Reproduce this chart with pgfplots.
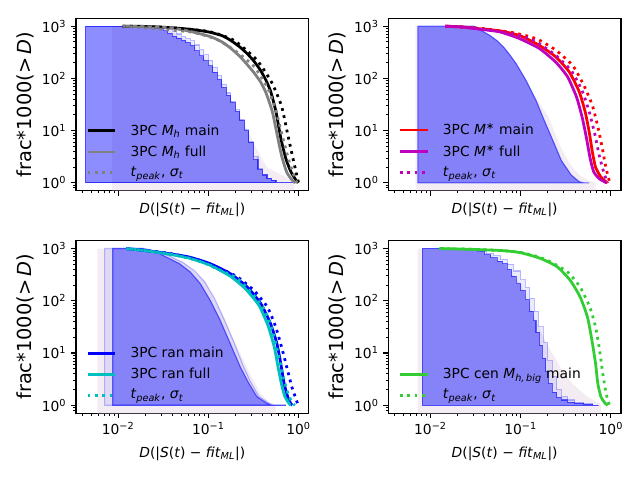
\documentclass[border=0pt]{standalone}
\usepackage{fontspec}
\setmainfont{DejaVu Sans}
\usepackage{pgfplots}
\pgfplotsset{compat=1.18}

\definecolor{mgray}{RGB}{128,128,128}
\definecolor{mred}{RGB}{255,0,0}
\definecolor{mblue}{RGB}{0,0,255}
\definecolor{mmag}{RGB}{191,0,191}
\definecolor{mcyan}{RGB}{0,191,191}
\definecolor{mlime}{RGB}{50,205,50}
\definecolor{thist}{RGB}{216,191,216}

\pgfplotsset{
 every axis/.append style={
  scale only axis, width=167.5bp, height=124.1bp, anchor=south west,
  axis line style={line width=0.8pt},
  tick align=outside, tick pos=left,
  major tick length=3.5pt, minor tick length=2pt,
  every tick/.style={black,line width=0.8pt},
  every minor tick/.style={black,line width=0.6pt},
  tick label style={font=\fontsize{10}{12}\selectfont},
  every axis y label/.style={at={(axis description cs:-0.219,0.5)},rotate=90,anchor=center,font=\fontsize{14}{16}\selectfont},
  legend style={at={(axis description cs:0.043,0.052)}, anchor=south west, draw=none, fill=none,
     font=\fontsize{10}{12}\selectfont, inner sep=0pt, row sep=2.2pt},
  legend cell align=left,
 },
 legend image code/.code={\draw[#1] (0pt,0pt) -- (20pt,0pt); \path (28pt,0pt);},
 lav/.style={fill=thist, fill opacity=0.3, draw=none},
 bluelight/.style={fill=mblue, fill opacity=0.08, draw=mblue, draw opacity=0.25, line width=0.8pt},
 bluemain/.style={fill=mblue, fill opacity=0.40, draw=mblue, draw opacity=0.55, line width=0.8pt},
 ln/.style={line width=2pt, smooth, tension=0.35},
 dt/.style={line width=2pt, dash pattern=on 2pt off 3.3pt, smooth, tension=0.35},
}
\newcommand{\XL}{\textit{D}(|\textit{S}(\textit{t}) − \textit{fit}\textsubscript{\textit{ML}}|)}
\newcommand{\YL}{frac*1000(>\,\textit{D})}
\newcommand{\TP}{\textit{t}\textsubscript{\textit{peak}}, \textit{σ}\textsubscript{\textit{t}}}

\begin{document}
\begin{tikzpicture}
\useasboundingbox (0,0) rectangle (460.8bp,345.6bp);

%================ top left =================
\begin{axis}[at={(54.72bp,208.3bp)},
  xmode=log, ymode=log, xmin=0.003412, xmax=1.294, ymin=0.7079, ymax=1412.5,
  xtick={0.01,0.1,1}, ytick={1,10,100,1000},
  minor xtick={0.004,0.005,0.006,0.007,0.008,0.009,0.02,0.03,0.04,0.05,0.06,0.07,0.08,0.09,0.2,0.3,0.4,0.5,0.6,0.7,0.8,0.9},
  minor ytick={0.8,0.9,2,3,4,5,6,7,8,9,20,30,40,50,60,70,80,90,200,300,400,500,600,700,800,900},
  xticklabels={}, yticklabels={10\textsuperscript{0},10\textsuperscript{1},10\textsuperscript{2},10\textsuperscript{3}},
  ylabel={\YL}, xlabel={\XL},
  every axis x label/.style={at={(axis description cs:0.5,-0.112)},anchor=center,font=\fontsize{10}{12}\selectfont}]
\addplot[lav, forget plot] table[header=false,row sep=\\,x expr=10^(\thisrowno{0}),y expr=10^(\thisrowno{1})]{
-2.07 -0.3\\ -2.07 3.0\\ -1.60 3.0\\ -1.45 2.92\\ -1.30 2.80\\ -1.15 2.58\\ -1.00 2.30\\ -0.90 2.06\\ -0.80 1.76\\ -0.70 1.45\\ -0.60 1.12\\ -0.50 0.78\\ -0.42 0.50\\ -0.35 0.30\\ -0.25 0.20\\ -0.15 0.12\\ -0.08 0.04\\ -0.05 0.0\\ -0.05 -0.3\\
} -- cycle;
\addplot[bluelight, const plot, forget plot] table[header=false,row sep=\\,x expr=10^(\thisrowno{0}),y expr=10^(\thisrowno{1})]{
-2.36 0\\ -2.36 3.0\\ -1.60 3.0\\ -1.55 2.99\\ -1.50 2.97\\ -1.45 2.94\\ -1.40 2.90\\ -1.35 2.85\\ -1.30 2.80\\ -1.25 2.76\\ -1.20 2.72\\ -1.15 2.64\\ -1.10 2.55\\ -1.05 2.45\\ -1.00 2.35\\ -0.95 2.21\\ -0.90 2.06\\ -0.85 1.89\\ -0.80 1.72\\ -0.75 1.56\\ -0.70 1.40\\ -0.65 1.22\\ -0.60 1.02\\ -0.55 0.79\\ -0.50 0.50\\ -0.45 0.28\\ -0.40 0.16\\ -0.35 0.09\\ -0.30 0.05\\ -0.25 0.0\\ -0.03 0.0\\
} -- cycle;
\addplot[bluemain, const plot, forget plot] table[header=false,row sep=\\,x expr=10^(\thisrowno{0}),y expr=10^(\thisrowno{1})]{
-2.36 0\\ -2.36 3.0\\ -1.65 3.0\\ -1.60 2.98\\ -1.55 2.95\\ -1.50 2.91\\ -1.45 2.86\\ -1.40 2.81\\ -1.35 2.77\\ -1.30 2.73\\ -1.25 2.69\\ -1.20 2.63\\ -1.15 2.53\\ -1.10 2.43\\ -1.05 2.34\\ -1.00 2.24\\ -0.95 2.12\\ -0.90 1.98\\ -0.85 1.83\\ -0.80 1.68\\ -0.75 1.54\\ -0.70 1.37\\ -0.65 1.20\\ -0.60 1.00\\ -0.55 0.78\\ -0.50 0.45\\ -0.45 0.26\\ -0.40 0.15\\ -0.35 0.09\\ -0.30 0.05\\ -0.25 0.0\\ -0.03 0.0\\
} -- cycle;
\addplot[ln, black] table[header=false,row sep=\\,x expr=10^(\thisrowno{0}),y expr=10^(\thisrowno{1})]{
-1.95 3.0\\ -1.70 2.995\\ -1.45 2.975\\ -1.20 2.94\\ -1.00 2.89\\ -0.85 2.82\\ -0.754 2.73\\ -0.65 2.60\\ -0.567 2.47\\ -0.49 2.32\\ -0.42 2.15\\ -0.36 1.96\\ -0.307 1.74\\ -0.25 1.36\\ -0.196 0.85\\ -0.14 0.46\\ -0.084 0.21\\ -0.028 0.05\\ -0.005 0.0\\
};
\addlegendentry{3PC \textit{M}\textsubscript{\textit{h}} main}
\addplot[ln, mgray] table[header=false,row sep=\\,x expr=10^(\thisrowno{0}),y expr=10^(\thisrowno{1})]{
-1.95 3.0\\ -1.70 2.99\\ -1.43 2.97\\ -1.20 2.90\\ -0.978 2.80\\ -0.85 2.70\\ -0.754 2.58\\ -0.65 2.42\\ -0.567 2.26\\ -0.49 2.10\\ -0.42 1.93\\ -0.36 1.72\\ -0.29 1.36\\ -0.235 0.90\\ -0.185 0.50\\ -0.13 0.20\\ -0.07 0.05\\ -0.035 0.0\\
};
\addlegendentry{3PC \textit{M}\textsubscript{\textit{h}} full}
\addplot[dt, black, forget plot] table[header=false,row sep=\\,x expr=10^(\thisrowno{0}),y expr=10^(\thisrowno{1})]{
-1.95 3.0\\ -1.45 2.975\\ -1.00 2.90\\ -0.75 2.76\\ -0.64 2.63\\ -0.456 2.34\\ -0.30 1.93\\ -0.19 1.48\\ -0.125 0.97\\ -0.07 0.53\\ -0.02 0.15\\ 0.0 0.0\\
};
\addplot[dt, mgray] table[header=false,row sep=\\,x expr=10^(\thisrowno{0}),y expr=10^(\thisrowno{1})]{
-1.95 3.0\\ -1.20 2.89\\ -0.90 2.74\\ -0.68 2.50\\ -0.49 2.22\\ -0.344 1.82\\ -0.25 1.38\\ -0.176 0.87\\ -0.102 0.40\\ -0.039 0.08\\ -0.017 0.0\\
};
\addlegendentry{\TP}
\end{axis}

%================ top right =================
\begin{axis}[at={(279.6bp,208.3bp)},
  xmode=log, ymode=log, xmin=0.003412, xmax=1.294, ymin=0.7079, ymax=1412.5,
  xtick={0.01,0.1,1}, ytick={1,10,100,1000},
  minor xtick={0.004,0.005,0.006,0.007,0.008,0.009,0.02,0.03,0.04,0.05,0.06,0.07,0.08,0.09,0.2,0.3,0.4,0.5,0.6,0.7,0.8,0.9},
  minor ytick={0.8,0.9,2,3,4,5,6,7,8,9,20,30,40,50,60,70,80,90,200,300,400,500,600,700,800,900},
  xticklabels={}, yticklabels={10\textsuperscript{0},10\textsuperscript{1},10\textsuperscript{2},10\textsuperscript{3}},
  ylabel={\YL}, xlabel={\XL},
  every axis x label/.style={at={(axis description cs:0.5,-0.112)},anchor=center,font=\fontsize{10}{12}\selectfont}]
\addplot[lav, forget plot] table[header=false,row sep=\\,x expr=10^(\thisrowno{0}),y expr=10^(\thisrowno{1})]{
-2.165 -0.3\\ -2.165 3.0\\ -1.50 3.0\\ -1.34 2.83\\ -1.19 2.62\\ -1.05 2.30\\ -0.94 1.98\\ -0.83 1.62\\ -0.70 1.29\\ -0.62 0.95\\ -0.55 0.66\\ -0.45 0.35\\ -0.35 0.15\\ -0.25 0.05\\ -0.17 0.0\\ -0.17 -0.3\\
} -- cycle;
\addplot[bluemain, fill opacity=0.45, forget plot] table[header=false,row sep=\\,x expr=10^(\thisrowno{0}),y expr=10^(\thisrowno{1})]{
-2.14 0\\ -2.14 3.0\\ -1.52 3.0\\ -1.43 2.91\\ -1.34 2.82\\ -1.26 2.72\\ -1.19 2.60\\ -1.12 2.45\\ -1.05 2.28\\ -0.94 1.96\\ -0.83 1.58\\ -0.74 1.20\\ -0.645 0.82\\ -0.55 0.43\\ -0.44 0.15\\ -0.35 0.02\\ -0.30 0.0\\ -0.24 0.0\\
} -- cycle;
\addplot[ln, mred] table[header=false,row sep=\\,x expr=10^(\thisrowno{0}),y expr=10^(\thisrowno{1})]{
-1.835 3.0\\ -1.65 2.985\\ -1.45 2.95\\ -1.23 2.91\\ -1.01 2.82\\ -0.79 2.63\\ -0.61 2.41\\ -0.46 2.12\\ -0.35 1.74\\ -0.285 1.36\\ -0.24 0.97\\ -0.205 0.59\\ -0.17 0.30\\ -0.11 0.11\\ -0.06 0.03\\ -0.04 0.0\\
};
\addlegendentry{3PC \textit{M}\textsuperscript{∗} main}
\addplot[ln, mmag] table[header=false,row sep=\\,x expr=10^(\thisrowno{0}),y expr=10^(\thisrowno{1})]{
-1.835 3.0\\ -1.65 2.985\\ -1.45 2.94\\ -1.23 2.89\\ -1.01 2.76\\ -0.79 2.57\\ -0.61 2.31\\ -0.48 2.03\\ -0.38 1.64\\ -0.315 1.23\\ -0.27 0.85\\ -0.23 0.47\\ -0.19 0.21\\ -0.13 0.08\\ -0.08 0.03\\ -0.05 0.0\\
};
\addlegendentry{3PC \textit{M}\textsuperscript{∗} full}
\addplot[dt, mred, forget plot] table[header=false,row sep=\\,x expr=10^(\thisrowno{0}),y expr=10^(\thisrowno{1})]{
-1.835 3.0\\ -1.45 2.96\\ -1.10 2.88\\ -0.90 2.80\\ -0.79 2.73\\ -0.61 2.54\\ -0.425 2.25\\ -0.30 1.87\\ -0.205 1.48\\ -0.14 1.04\\ -0.095 0.66\\ -0.06 0.34\\ -0.03 0.11\\ -0.01 0.0\\
};
\addplot[dt, mmag] table[header=false,row sep=\\,x expr=10^(\thisrowno{0}),y expr=10^(\thisrowno{1})]{
-1.835 3.0\\ -1.45 2.95\\ -1.10 2.86\\ -0.90 2.76\\ -0.79 2.66\\ -0.61 2.44\\ -0.44 2.15\\ -0.32 1.77\\ -0.24 1.36\\ -0.175 0.91\\ -0.13 0.53\\ -0.085 0.24\\ -0.055 0.08\\ -0.03 0.0\\
};
\addlegendentry{\TP}
\end{axis}

%================ bottom left =================
\begin{axis}[at={(54.72bp,48.2bp)},
  xmode=log, ymode=log, xmin=0.003412, xmax=1.294, ymin=0.7079, ymax=1412.5,
  xtick={0.01,0.1,1}, ytick={1,10,100,1000},
  minor xtick={0.004,0.005,0.006,0.007,0.008,0.009,0.02,0.03,0.04,0.05,0.06,0.07,0.08,0.09,0.2,0.3,0.4,0.5,0.6,0.7,0.8,0.9},
  minor ytick={0.8,0.9,2,3,4,5,6,7,8,9,20,30,40,50,60,70,80,90,200,300,400,500,600,700,800,900},
  xticklabels={10\textsuperscript{−2},10\textsuperscript{−1},10\textsuperscript{0}},
  yticklabels={10\textsuperscript{0},10\textsuperscript{1},10\textsuperscript{2},10\textsuperscript{3}},
  ylabel={\YL}, xlabel={\XL},
  every axis x label/.style={at={(axis description cs:0.5,-0.234)},anchor=center,font=\fontsize{10}{12}\selectfont}]
\addplot[lav, forget plot] table[header=false,row sep=\\,x expr=10^(\thisrowno{0}),y expr=10^(\thisrowno{1})]{
-2.23 -0.3\\ -2.23 3.0\\ -1.70 3.0\\ -1.50 2.92\\ -1.28 2.74\\ -1.04 2.38\\ -0.83 1.70\\ -0.72 1.26\\ -0.60 0.82\\ -0.50 0.48\\ -0.42 0.22\\ -0.33 0.06\\ -0.25 0.0\\ -0.25 -0.3\\
} -- cycle;
\addplot[bluelight, forget plot] table[header=false,row sep=\\,x expr=10^(\thisrowno{0}),y expr=10^(\thisrowno{1})]{
-2.15 0\\ -2.15 3.0\\ -1.70 3.0\\ -1.50 2.91\\ -1.28 2.73\\ -1.15 2.57\\ -1.04 2.36\\ -0.93 2.04\\ -0.83 1.66\\ -0.72 1.22\\ -0.62 0.78\\ -0.53 0.44\\ -0.44 0.17\\ -0.33 0.04\\ -0.28 0.0\\ -0.14 0.0\\
} -- cycle;
\addplot[bluemain, forget plot] table[header=false,row sep=\\,x expr=10^(\thisrowno{0}),y expr=10^(\thisrowno{1})]{
-2.06 0\\ -2.06 3.0\\ -1.73 3.0\\ -1.54 2.90\\ -1.32 2.71\\ -1.20 2.55\\ -1.09 2.33\\ -0.98 2.01\\ -0.87 1.63\\ -0.757 1.18\\ -0.645 0.73\\ -0.55 0.415\\ -0.46 0.16\\ -0.346 0.03\\ -0.30 0.0\\ -0.14 0.0\\
} -- cycle;
\addplot[ln, mblue] table[header=false,row sep=\\,x expr=10^(\thisrowno{0}),y expr=10^(\thisrowno{1})]{
-1.91 3.0\\ -1.70 2.96\\ -1.47 2.91\\ -1.22 2.84\\ -0.98 2.71\\ -0.757 2.52\\ -0.57 2.265\\ -0.42 1.95\\ -0.31 1.56\\ -0.24 1.18\\ -0.197 0.80\\ -0.16 0.415\\ -0.12 0.16\\ -0.085 0.03\\ -0.07 0.0\\
};
\addlegendentry{3PC ran main}
\addplot[ln, mcyan] table[header=false,row sep=\\,x expr=10^(\thisrowno{0}),y expr=10^(\thisrowno{1})]{
-1.91 3.0\\ -1.70 2.96\\ -1.47 2.90\\ -1.22 2.82\\ -0.98 2.68\\ -0.757 2.47\\ -0.59 2.23\\ -0.44 1.915\\ -0.34 1.53\\ -0.27 1.12\\ -0.227 0.73\\ -0.186 0.38\\ -0.15 0.16\\ -0.104 0.03\\ -0.09 0.0\\
};
\addlegendentry{3PC ran full}
\addplot[dt, mblue, forget plot] table[header=false,row sep=\\,x expr=10^(\thisrowno{0}),y expr=10^(\thisrowno{1})]{
-1.91 3.0\\ -1.47 2.92\\ -1.10 2.78\\ -0.85 2.60\\ -0.68 2.46\\ -0.496 2.20\\ -0.346 1.88\\ -0.253 1.50\\ -0.178 1.05\\ -0.122 0.67\\ -0.074 0.35\\ -0.037 0.16\\ -0.01 0.03\\ 0.0 0.0\\
};
\addplot[dt, mcyan] table[header=false,row sep=\\,x expr=10^(\thisrowno{0}),y expr=10^(\thisrowno{1})]{
-1.91 3.0\\ -1.47 2.91\\ -1.10 2.76\\ -0.85 2.57\\ -0.68 2.43\\ -0.514 2.14\\ -0.376 1.82\\ -0.29 1.44\\ -0.227 0.99\\ -0.178 0.61\\ -0.13 0.29\\ -0.085 0.10\\ -0.055 0.02\\ -0.04 0.0\\
};
\addlegendentry{\TP}
\end{axis}

%================ bottom right =================
\begin{axis}[at={(279.6bp,48.2bp)},
  xmode=log, ymode=log, xmin=0.003412, xmax=1.294, ymin=0.7079, ymax=1412.5,
  xtick={0.01,0.1,1}, ytick={1,10,100,1000},
  minor xtick={0.004,0.005,0.006,0.007,0.008,0.009,0.02,0.03,0.04,0.05,0.06,0.07,0.08,0.09,0.2,0.3,0.4,0.5,0.6,0.7,0.8,0.9},
  minor ytick={0.8,0.9,2,3,4,5,6,7,8,9,20,30,40,50,60,70,80,90,200,300,400,500,600,700,800,900},
  xticklabels={10\textsuperscript{−2},10\textsuperscript{−1},10\textsuperscript{0}},
  yticklabels={10\textsuperscript{0},10\textsuperscript{1},10\textsuperscript{2},10\textsuperscript{3}},
  ylabel={\YL}, xlabel={\XL},
  every axis x label/.style={at={(axis description cs:0.5,-0.234)},anchor=center,font=\fontsize{10}{12}\selectfont}]
\addplot[lav, forget plot] table[header=false,row sep=\\,x expr=10^(\thisrowno{0}),y expr=10^(\thisrowno{1})]{
-2.14 -0.3\\ -2.14 3.0\\ -1.60 3.0\\ -1.45 2.95\\ -1.30 2.85\\ -1.15 2.62\\ -1.00 2.33\\ -0.85 1.69\\ -0.76 1.35\\ -0.67 1.05\\ -0.55 0.70\\ -0.43 0.415\\ -0.26 0.16\\ -0.116 0.03\\ -0.11 0.0\\ -0.11 -0.3\\
} -- cycle;
\addplot[bluelight, const plot, forget plot] table[header=false,row sep=\\,x expr=10^(\thisrowno{0}),y expr=10^(\thisrowno{1})]{
-2.086 0\\ -2.086 3.0\\ -1.60 3.0\\ -1.52 2.98\\ -1.45 2.95\\ -1.38 2.91\\ -1.30 2.86\\ -1.22 2.79\\ -1.15 2.70\\ -1.08 2.57\\ -1.00 2.40\\ -0.95 2.25\\ -0.90 2.05\\ -0.85 1.80\\ -0.80 1.50\\ -0.75 1.20\\ -0.70 0.85\\ -0.65 0.55\\ -0.60 0.30\\ -0.55 0.17\\ -0.48 0.10\\ -0.40 0.06\\ -0.30 0.03\\ -0.20 0.0\\ -0.135 0.0\\
} -- cycle;
\addplot[bluemain, const plot, forget plot] table[header=false,row sep=\\,x expr=10^(\thisrowno{0}),y expr=10^(\thisrowno{1})]{
-2.086 0\\ -2.086 3.0\\ -1.63 3.0\\ -1.55 2.96\\ -1.48 2.935\\ -1.40 2.88\\ -1.33 2.82\\ -1.26 2.76\\ -1.20 2.71\\ -1.15 2.60\\ -1.10 2.47\\ -1.05 2.33\\ -1.00 2.20\\ -0.95 2.02\\ -0.90 1.80\\ -0.86 1.62\\ -0.83 1.40\\ -0.79 1.15\\ -0.76 0.90\\ -0.72 0.65\\ -0.69 0.42\\ -0.65 0.25\\ -0.60 0.15\\ -0.55 0.10\\ -0.48 0.06\\ -0.40 0.04\\ -0.30 0.02\\ -0.20 0.0\\ -0.135 0.0\\
} -- cycle;
\addplot[ln, mlime] table[header=false,row sep=\\,x expr=10^(\thisrowno{0}),y expr=10^(\thisrowno{1})]{
-1.90 3.0\\ -1.55 2.985\\ -1.20 2.96\\ -1.00 2.92\\ -0.78 2.81\\ -0.595 2.65\\ -0.45 2.39\\ -0.34 2.07\\ -0.26 1.69\\ -0.21 1.24\\ -0.17 0.80\\ -0.145 0.415\\ -0.11 0.16\\ -0.06 0.03\\ -0.035 0.0\\
};
\addlegendentry{3PC cen \textit{M}\textsubscript{\textit{h,\,big}} main}
\addplot[dt, mlime] table[header=false,row sep=\\,x expr=10^(\thisrowno{0}),y expr=10^(\thisrowno{1})]{
-1.90 3.0\\ -1.55 2.985\\ -1.20 2.96\\ -1.00 2.925\\ -0.80 2.84\\ -0.67 2.745\\ -0.48 2.55\\ -0.34 2.26\\ -0.234 1.88\\ -0.17 1.50\\ -0.125 1.05\\ -0.09 0.61\\ -0.06 0.29\\ -0.035 0.10\\ -0.015 0.0\\
};
\addlegendentry{\TP}
\end{axis}
\end{tikzpicture}
\end{document}
